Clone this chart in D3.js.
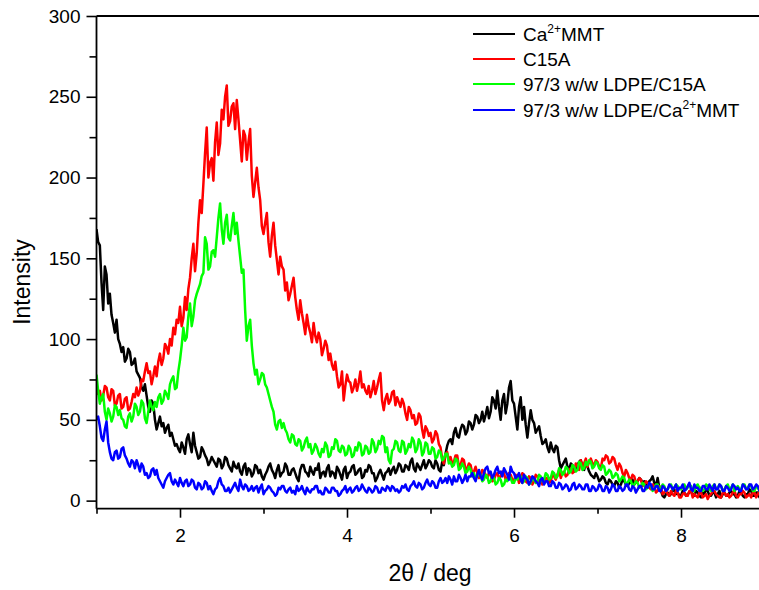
<!DOCTYPE html>
<html>
<head>
<meta charset="utf-8">
<script src="https://cdn.jsdelivr.net/npm/d3@7"></script>
<style>
  body { margin: 0; background: #fff; }
  svg text { font-family: Arial, "Liberation Sans", sans-serif; fill: #000; }
</style>
</head>
<body>
<div id="chart"></div>
<script>
// XRD patterns, 2theta grid 1.00 .. 8.98 step 0.02 (400 pts per curve)
var twoTheta = d3.range(400).map(i => +(1 + i * 0.02).toFixed(2));

// Ca2+MMT
var caMMT = [
  168,160,158,135,118,145,140,122,128,115,110,104,112,100,97,92,95,86,88,94,92,84,85,88,80,78,76,70,68,72,65,58,55,62,60,50,44,48,52,46,48,42,45,47,40,42,38,34,35,32,
  30,36,33,29,38,41,35,30,42,34,30,26,27,33,31,28,26,22,24,27,25,23,21,26,25,20,22,27,26,22,20,18,24,21,20,23,18,16,21,23,16,20,19,15,17,22,21,17,19,15,
  13,16,18,21,23,19,17,14,19,22,15,17,18,23,21,16,16,19,20,17,14,12,19,22,22,18,17,15,21,18,16,20,19,23,14,17,18,15,20,22,15,18,17,14,21,19,16,13,19,21,
  14,17,18,21,22,16,17,19,20,14,15,19,18,22,21,17,17,12,14,17,19,16,13,17,18,20,16,19,21,17,19,23,22,18,18,22,21,19,24,26,20,18,23,21,19,22,25,20,22,25,
  24,21,20,25,23,19,18,24,22,29,34,37,38,35,42,45,40,39,44,47,46,41,43,49,48,44,47,53,52,48,50,55,49,53,58,51,55,64,62,57,68,58,50,62,66,54,60,70,74,62,
  60,52,44,58,64,50,58,47,39,48,56,50,48,42,44,46,40,35,36,38,33,30,36,32,30,34,33,25,20,22,24,26,21,19,23,22,18,20,22,24,25,21,19,23,21,18,16,15,14,17,
  15,12,13,15,14,11,10,13,12,10,9,12,11,8,10,13,12,10,9,11,11,13,10,12,12,14,13,11,12,9,10,12,13,15,11,9,14,8,6,3,2,4,5,3,4,6,7,4,5,3,
  3,6,5,3,4,5,6,4,3,6,5,3,2,5,4,7,6,3,3,5,5,2,4,6,2,4,5,3,3,5,6,4,4,2,3,6,5,3,2,4,4,7,6,3,3,5,5,2,4,5
];
// C15A
var c15a = [
  72,66,68,62,65,71,70,64,62,69,68,59,60,65,66,57,58,63,64,56,57,61,66,64,70,65,68,75,74,80,85,79,80,72,77,83,77,86,91,84,88,97,95,91,100,96,107,103,112,110,
  120,108,113,126,118,131,138,150,159,142,153,172,186,178,196,215,231,200,209,212,198,222,234,214,221,242,236,250,257,232,235,244,246,230,248,236,223,210,229,226,211,222,230,201,188,197,206,194,186,170,
  165,172,178,160,151,164,172,158,149,140,151,145,143,130,135,124,128,133,138,126,118,112,124,116,110,103,115,108,104,98,110,102,98,104,100,90,94,99,96,87,91,84,81,86,77,70,72,80,62,71,
  78,74,73,67,70,75,68,73,80,70,72,68,66,71,64,68,74,66,70,75,79,62,56,63,66,60,62,67,68,59,64,61,58,63,60,54,50,58,56,51,53,47,48,54,52,44,39,46,44,40,
  42,36,38,43,41,35,33,26,23,29,30,25,27,23,24,28,28,21,22,26,25,19,20,23,22,17,18,21,17,14,15,19,18,16,14,17,16,12,13,16,17,14,15,18,17,13,14,17,16,13,
  12,16,15,11,13,17,16,12,11,15,14,10,12,16,15,12,13,10,11,14,14,11,12,16,15,13,16,19,14,17,18,15,16,19,20,17,18,23,22,19,25,21,23,26,21,24,26,23,22,25,
  24,21,20,26,25,28,27,23,24,27,26,22,19,23,21,17,15,19,17,14,13,16,15,11,12,14,13,9,10,12,11,8,7,10,9,5,6,9,8,4,5,7,4,3,6,4,3,6,5,2,
  2,4,5,3,3,6,6,2,4,3,2,5,5,2,3,4,1,3,4,6,6,4,3,2,2,5,5,3,4,2,3,5,6,3,2,4,4,6,5,2,3,4,2,5,5,2,4,6,3,4
];
// 97/3 w/w LDPE/C15A
var ldpeC15a = [
  78,68,60,64,66,55,50,57,54,49,52,59,58,53,56,51,50,46,45,52,54,49,52,60,58,53,55,62,60,51,48,55,62,58,56,61,58,64,66,60,62,68,66,63,72,75,77,69,70,80,
  87,96,107,99,101,114,122,108,114,124,128,131,134,139,141,163,159,143,145,154,155,151,163,175,184,168,159,172,177,163,161,170,178,165,172,161,151,141,143,118,99,108,112,96,85,78,81,72,75,79,
  78,72,70,66,62,58,55,47,44,49,50,45,48,44,42,38,36,41,40,35,34,38,37,31,33,37,39,33,35,29,31,35,33,29,27,32,30,36,34,27,28,33,32,38,37,31,30,34,33,28,
  29,34,32,27,28,33,31,36,35,28,29,34,33,29,30,38,36,30,32,37,35,40,39,30,33,25,23,31,32,37,36,31,30,37,36,29,31,35,33,39,37,30,32,38,36,28,30,36,35,29,
  29,33,32,26,27,31,30,25,26,29,29,23,24,21,22,26,25,19,20,23,21,17,18,21,19,15,17,14,15,17,16,12,13,16,15,11,12,15,14,10,11,14,13,9,10,13,12,15,14,11,
  11,14,13,16,15,11,12,15,14,10,11,14,13,11,12,16,15,12,13,17,16,13,14,18,17,14,15,20,19,16,17,21,20,17,18,22,21,18,19,24,23,19,20,24,22,25,24,20,21,24,
  23,20,19,22,21,16,17,19,18,14,15,17,16,12,13,15,14,10,11,13,12,9,10,12,11,8,9,11,10,7,8,10,9,6,7,10,10,7,8,10,9,6,7,9,10,7,8,10,9,7,
  7,9,10,7,8,10,9,6,6,9,10,8,8,6,7,10,9,7,6,9,10,7,8,10,9,6,7,9,10,7,8,10,6,8,9,7,7,10,10,7,8,10,9,6,6,9,8,6,7,9
];
// 97/3 w/w LDPE/Ca2+MMT
var ldpeCaMMT = [
  50,52,46,39,37,44,49,36,30,26,25,30,31,26,27,32,33,28,26,23,21,25,24,20,25,22,18,23,21,16,17,14,15,19,20,16,19,14,12,10,8,12,14,16,17,12,10,13,11,9,
  14,11,9,12,13,9,10,13,12,8,7,11,10,7,8,12,11,7,9,6,4,7,8,12,14,10,9,6,6,8,5,7,9,11,8,6,13,9,7,10,9,6,7,9,6,8,9,5,8,10,
  4,6,7,9,8,6,5,3,4,8,7,9,9,6,5,7,8,5,6,4,9,6,7,9,6,4,8,6,5,7,7,9,9,5,6,4,4,8,7,5,5,8,8,6,6,3,4,6,7,9,
  5,7,8,5,6,8,9,6,7,10,8,6,5,8,7,5,6,9,8,5,5,8,7,6,9,8,6,9,8,6,7,5,6,9,8,10,7,6,9,10,12,9,8,11,10,7,8,11,13,10,
  9,12,11,8,8,12,14,11,12,14,11,15,13,10,15,12,12,16,14,11,13,16,12,15,15,17,14,12,16,19,15,13,17,20,21,17,18,14,16,19,21,17,18,15,20,18,16,13,21,18,
  17,14,15,17,13,11,16,14,13,10,12,15,14,12,11,9,13,14,10,12,12,9,9,12,11,8,8,11,10,7,8,10,9,6,7,10,11,7,8,10,9,7,7,10,10,6,6,9,8,6,
  7,10,9,6,6,9,8,5,7,10,9,6,6,9,8,6,7,10,10,7,6,9,8,5,7,9,9,6,6,9,8,11,10,7,7,9,9,6,6,9,8,6,7,10,9,7,8,10,6,8,
  8,10,6,7,9,11,7,6,10,8,8,6,6,9,9,7,7,10,8,6,10,7,7,10,9,6,6,9,8,6,7,10,9,7,8,6,6,10,9,7,7,10,10,7,8,10,9,6,8,10
];

var seriesNames = ["Ca2+MMT", "C15A", "97/3 w/w LDPE/C15A", "97/3 w/w LDPE/Ca2+MMT"];
var seriesColors = ["#000000", "#ff0000", "#00ff00", "#0000ff"];
var seriesData = [caMMT, c15a, ldpeC15a, ldpeCaMMT];

var yMajor = [0, 50, 100, 150, 200, 250, 300];
var yMinor = [25, 75, 125, 175, 225, 275];
var xMajor = [2, 4, 6, 8];
var xMinor = [1, 3, 5, 7];

// chart setup
var svgWidth = 759, svgHeight = 590;
var plotLeft = 96.5, plotRight = 759, plotTop = 16, plotBottom = 508.7;

var svg = d3.select("#chart").append("svg")
  .attr("width", svgWidth)
  .attr("height", svgHeight);

var x = d3.scaleLinear().domain([1, 8.934]).range([plotLeft, plotRight]);
var y = d3.scaleLinear().domain([-5, 300]).range([plotBottom, plotTop]);

svg.append("clipPath").attr("id", "plotclip")
  .append("rect")
  .attr("x", plotLeft).attr("y", plotTop)
  .attr("width", plotRight - plotLeft).attr("height", plotBottom - plotTop);

// curves
var line = d3.line()
  .x((d, i) => x(twoTheta[i]))
  .y(d => y(d));

var plot = svg.append("g").attr("clip-path", "url(#plotclip)");
seriesData.forEach(function(vals, k) {
  plot.append("path")
    .datum(vals)
    .attr("d", line)
    .attr("fill", "none")
    .attr("stroke", seriesColors[k])
    .attr("stroke-width", 2.5)
    .attr("stroke-linejoin", "round");
});

// axes
svg.append("g")
  .attr("class", "axis")
  .attr("transform", `translate(${plotLeft},0)`)
  .call(d3.axisLeft(y).tickValues(yMajor).tickSize(10).tickPadding(6));
svg.append("g")
  .attr("class", "axis")
  .attr("transform", `translate(${plotLeft},0)`)
  .call(d3.axisLeft(y).tickValues(yMinor).tickSize(7).tickFormat(""));

svg.append("g")
  .attr("class", "axis")
  .attr("transform", `translate(0,${plotBottom})`)
  .call(d3.axisBottom(x).tickValues(xMajor).tickSize(9).tickPadding(11));
svg.append("g")
  .attr("class", "axis")
  .attr("transform", `translate(0,${plotBottom})`)
  .call(d3.axisBottom(x).tickValues(xMinor).tickSize(5).tickFormat(""));

svg.selectAll(".axis").attr("font-size", 19).attr("font-family", "Arial, 'Liberation Sans', sans-serif");
svg.selectAll(".domain").remove();
svg.selectAll(".tick line").attr("stroke", "#000").attr("stroke-width", 1.6);
svg.selectAll(".tick text").attr("fill", "#000");

// frame lines: left, bottom, top
svg.append("line").attr("x1", plotLeft).attr("x2", plotLeft).attr("y1", plotTop).attr("y2", plotBottom)
  .attr("stroke", "#000").attr("stroke-width", 1.8);
svg.append("line").attr("x1", plotLeft).attr("x2", plotRight).attr("y1", plotBottom).attr("y2", plotBottom)
  .attr("stroke", "#000").attr("stroke-width", 1.8);
svg.append("line").attr("x1", plotLeft).attr("x2", plotRight).attr("y1", plotTop).attr("y2", plotTop)
  .attr("stroke", "#000").attr("stroke-width", 1.8);

// axis titles
svg.append("text")
  .attr("x", 430).attr("y", 581)
  .attr("text-anchor", "middle")
  .style("font-size", "23px")
  .text("2\u03b8 / deg");

svg.append("text")
  .attr("transform", "translate(30,282) rotate(-90)")
  .attr("text-anchor", "middle")
  .style("font-size", "23px")
  .text("Intensity");

// legend
var legend = svg.append("g");
var legendY = [34, 59, 84, 110];
seriesNames.forEach(function(name, k) {
  legend.append("line")
    .attr("x1", 473).attr("x2", 515)
    .attr("y1", legendY[k]).attr("y2", legendY[k])
    .attr("stroke", seriesColors[k])
    .attr("stroke-width", 2);
  var t = legend.append("text")
    .attr("x", 523).attr("y", legendY[k] + 7)
    .style("font-size", "19px");
  var parts = name.split("2+");
  if (parts.length > 1) {
    t.append("tspan").text(parts[0]);
    t.append("tspan").attr("dy", -8).style("font-size", "12px").text("2+");
    t.append("tspan").attr("dy", 8).text(parts[1]);
  } else {
    t.text(name);
  }
});
</script>
</body>
</html>
